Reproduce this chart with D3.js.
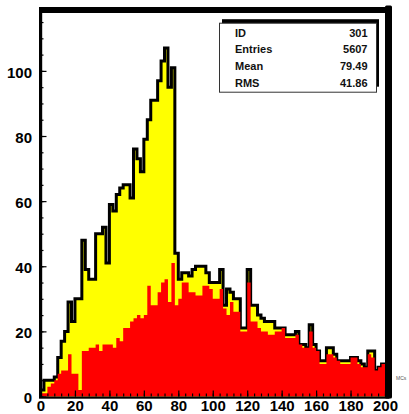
<!DOCTYPE html>
<html>
<head>
<meta charset="utf-8">
<script src="https://cdn.jsdelivr.net/npm/d3@7"></script>
<style>
  html, body { margin: 0; padding: 0; background: #fff; }
  svg { display: block; }
  text { font-family: "Liberation Sans", Arial, Helvetica, sans-serif; }
</style>
</head>
<body>
<svg id="chart" width="409" height="414"></svg>
<script>
// ---- data (bin width 2, range 0..200) ----
const binEdgesStart = d3.range(0, 200, 2);
const totalCounts = [
  2, 5, 5, 5, 6, 12, 17, 20, 29, 23,
  30, 30, 48, 39, 36, 36, 50, 50, 52, 41,
  59, 57, 62, 64, 65, 65, 61, 76, 73, 69,
  79, 85, 91, 91, 97, 103, 107, 95, 101, 44,
  36, 38, 38, 37, 39, 40, 40, 40, 38, 35,
  35, 35, 39, 28, 33, 32, 30, 30, 21, 21,
  39, 28, 28, 25, 24, 23, 23, 23, 21, 21,
  21, 19, 19, 19, 20, 16, 16, 15, 22, 16,
  14, 11, 11, 15, 15, 13, 11, 11, 11, 11,
  12, 12, 11, 10, 9, 14, 14, 8, 9, 10
];
const redCounts = [
  1, 1, 3, 4, 5, 7, 8, 8, 13, 7,
  7, 2, 14, 14, 15, 15, 16, 14, 16, 16,
  16, 15, 18, 17, 21, 21, 23, 24, 25, 24,
  25, 34, 28, 28, 32, 35, 36, 29, 41, 28,
  30, 35, 35, 32, 32, 31, 31, 34, 34, 33,
  30, 30, 33, 27, 25, 29, 26, 26, 20, 20,
  35, 23, 23, 21, 20, 20, 19, 19, 20, 20,
  21, 18, 18, 18, 19, 16, 15, 15, 20, 15,
  14, 10, 10, 13, 13, 12, 11, 10, 10, 10,
  12, 12, 10, 9, 9, 13, 12, 8, 9, 10
];
const xTickValues = [0, 20, 40, 60, 80, 100, 120, 140, 160, 180, 200];
const yTickValues = [0, 20, 40, 60, 80, 100];
const statsLabels = ["ID", "Entries", "Mean", "RMS"];
const statsValues = ["301", "5607", "79.49", "41.86"];
const cornerLabel = "MCs";

// ---- scales ----
const binW = 2;
const x = d3.scaleLinear().domain([0, 200]).range([40.5, 385]);
const y = d3.scaleLinear().domain([0, 118.7]).range([396.5, 10]);

const svg = d3.select("#chart");

function stepPoints(counts) {
  const pts = [[0, 0]];
  counts.forEach((v, i) => {
    pts.push([binEdgesStart[i], v]);
    pts.push([binEdgesStart[i] + binW, v]);
  });
  pts.push([200, 0]);
  return pts;
}
const lineGen = d3.line().x(d => x(d[0])).y(d => y(d[1]));

// yellow filled histogram with black outline
const outlinePts = stepPoints(totalCounts);
svg.append("path")
  .attr("d", lineGen(outlinePts) + "Z")
  .attr("fill", "#ffff00")
  .attr("stroke", "none");
svg.append("path")
  .attr("d", lineGen(outlinePts.slice(0, outlinePts.length - 1)))
  .attr("fill", "none")
  .attr("stroke", "#000")
  .attr("stroke-width", 3)
  .attr("stroke-linejoin", "miter");

// red histogram (filled step area)
svg.append("path")
  .attr("d", lineGen(stepPoints(redCounts)) + "Z")
  .attr("fill", "#ff0000")
  .attr("stroke", "none");

// ---- axes ----
const fontTick = "bold 15px 'Liberation Sans', Arial, sans-serif";

// y minor ticks
svg.append("g")
  .attr("transform", `translate(${x(0)},0)`)
  .call(d3.axisLeft(y).tickValues(d3.range(0, 118, 5)).tickSize(-3).tickFormat(""))
  .call(g => g.select(".domain").remove())
  .call(g => g.selectAll("line").attr("stroke", "#000").attr("stroke-width", 1.2));
// y major ticks + labels
svg.append("g")
  .attr("transform", `translate(${x(0)},0)`)
  .call(d3.axisLeft(y).tickValues(yTickValues).tickSize(-6).tickPadding(8.5).tickFormat(d3.format("d")))
  .call(g => g.select(".domain").remove())
  .call(g => g.selectAll("line").attr("stroke", "#000").attr("stroke-width", 1.2))
  .call(g => g.selectAll("text").attr("fill", "#000").attr("dy", "0.42em")
    .style("font", fontTick));

// x minor ticks
svg.append("g")
  .attr("transform", `translate(0,${y(0)})`)
  .call(d3.axisBottom(x).tickValues(d3.range(0, 201, 4)).tickSize(-3).tickFormat(""))
  .call(g => g.select(".domain").remove())
  .call(g => g.selectAll("line").attr("stroke", "#000").attr("stroke-width", 1.2));
// x major ticks + labels
svg.append("g")
  .attr("transform", `translate(0,${y(0)})`)
  .call(d3.axisBottom(x).tickValues(xTickValues).tickSize(-6).tickPadding(3.5).tickFormat(d3.format("d")))
  .call(g => g.select(".domain").remove())
  .call(g => g.selectAll("line").attr("stroke", "#000").attr("stroke-width", 1.2))
  .call(g => g.selectAll("text").attr("fill", "#000").style("font", fontTick));

// ---- frame ----
const frame = svg.append("g").attr("fill", "#000");
frame.append("rect").attr("x", x(0) - 1.5).attr("y", y(118.7) - 2).attr("width", 3.2).attr("height", y(0) - y(118.7) + 3.5);
frame.append("rect").attr("x", x(0) - 1.5).attr("y", y(0)).attr("width", x(200) - x(0) + 6).attr("height", 2.2);
frame.append("rect").attr("x", x(0) - 1.5).attr("y", 7).attr("width", 392 - x(0) + 1.5).attr("height", 6);
frame.append("rect").attr("x", x(200)).attr("y", 5.5).attr("width", 7).attr("height", y(0) + 2 - 5.5)
  .attr("rx", 1.5);

// ---- stats box ----
const sb = { x: 219, y: 22.7, w: 157, h: 69 };
svg.append("rect").attr("x", sb.x + 3).attr("y", sb.y - 3.5).attr("width", sb.w).attr("height", sb.h - 1.5).attr("fill", "#000");
svg.append("rect").attr("x", sb.x + 0.5).attr("y", sb.y + 0.5).attr("width", sb.w).attr("height", sb.h)
  .attr("fill", "#fff").attr("stroke", "#333").attr("stroke-width", 1);
const baselines = [36.7, 53.4, 70.1, 86.7];
const st = svg.append("g").style("font", "bold 11px 'Liberation Sans', Arial, sans-serif").attr("fill", "#111");
statsLabels.forEach((t, i) => {
  st.append("text").attr("x", 235).attr("y", baselines[i]).text(t);
  st.append("text").attr("x", 367.5).attr("y", baselines[i]).attr("text-anchor", "end").text(statsValues[i]);
});

// small corner label
svg.append("text").attr("x", 396).attr("y", 380).text(cornerLabel)
  .style("font", "5px 'Liberation Sans', Arial, sans-serif").attr("fill", "#555");
</script>
</body>
</html>
